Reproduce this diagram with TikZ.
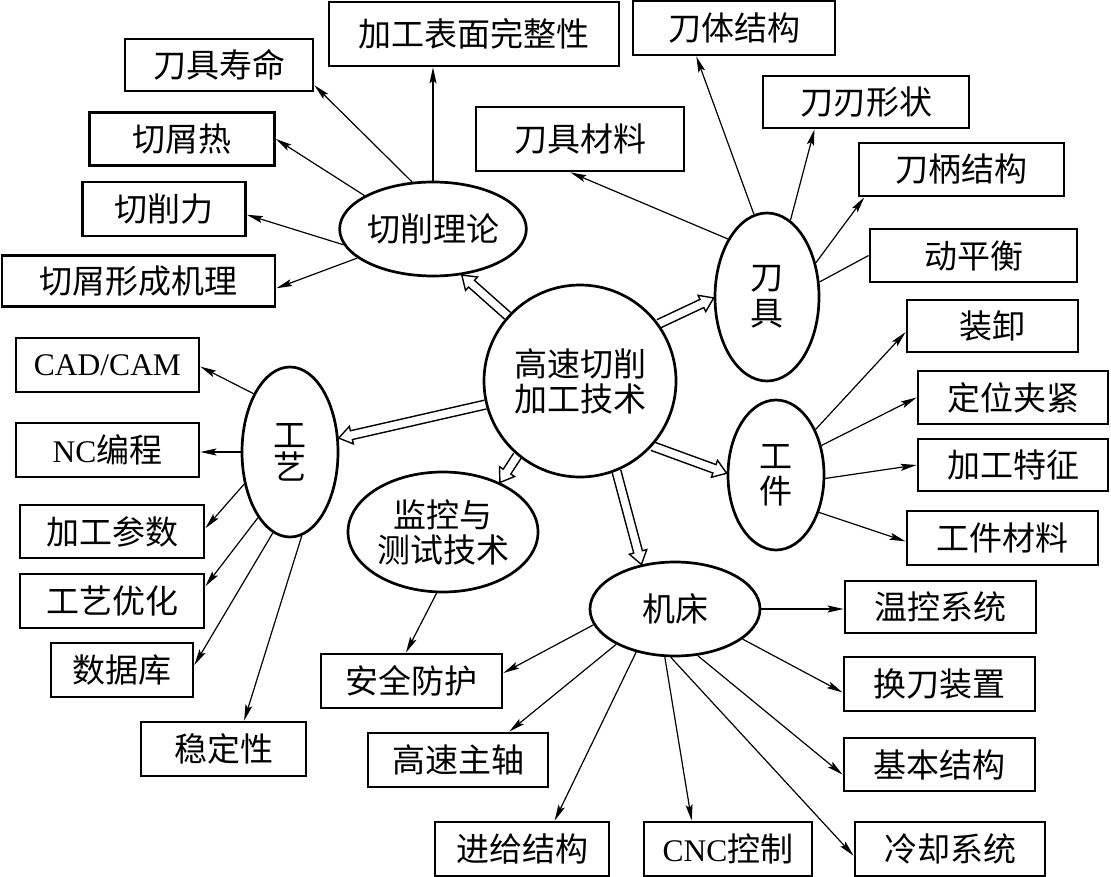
\documentclass[tikz,border=0pt]{standalone}
\usepackage{fontspec}
\setmainfont{Noto Sans CJK SC}
\newfontfamily\latfont{Liberation Serif}
\newcommand\Lat[1]{{\fontsize{31.5}{33}\selectfont\latfont #1}}
\usetikzlibrary{shapes.geometric,arrows.meta,calc}
\newcommand\harrow[2]{%
  \coordinate (hA) at (#1);
  \coordinate (hB) at (#2);
  \coordinate (hH) at ($(hB)!13pt!(hA)$);
  \draw[hollow] ($(hA)!4.5pt!90:(hB)$) -- ($(hH)!4.5pt!-90:(hA)$) -- ($(hH)!9pt!-90:(hA)$) -- (hB)
     -- ($(hH)!9pt!90:(hA)$) -- ($(hH)!4.5pt!90:(hA)$) -- ($(hA)!4.5pt!-90:(hB)$);
}
\begin{document}
\begin{tikzpicture}[x=1pt,y=-1pt,
  every node/.style={font=\fontsize{33}{35}\selectfont},
  box/.style={draw, line width=2.8pt, inner sep=0pt, minimum height=53pt},
  oval/.style={draw, ellipse, line width=2.7pt, inner sep=0pt, align=center},
  link/.style={line width=1.2pt, -{Stealth[length=16pt,width=7pt,inset=3pt]}},
  plain/.style={line width=1.2pt},
  hollow/.style={line width=1.4pt, line join=miter}]
\useasboundingbox (0,0) rectangle (1111,877);

% boxes
\node[box, minimum width=290pt, minimum height=64pt] (surf) at (474,34) {加工表面完整性};
\node[box, minimum width=188pt, minimum height=52pt] (life) at (219,65) {刀具寿命};
\node[box, minimum width=185pt] (heat) at (182,139) {切屑热};
\node[box, minimum width=163pt, minimum height=54pt] (force) at (164,209) {切削力};
\node[box, minimum width=273pt, minimum height=51pt] (chip) at (138.5,281) {切屑形成机理};
\node[box, minimum width=208pt, minimum height=64pt] (tmat) at (580,139) {刀具材料};
\node[box, minimum width=202pt, minimum height=54pt] (body) at (734,28) {刀体结构};
\node[box, minimum width=206pt, minimum height=52pt] (edge) at (866,102) {刀刃形状};
\node[box, minimum width=205pt] (shank) at (961.5,169.5) {刀柄结构};
\node[box, minimum width=207pt] (bal) at (973.5,255.5) {动平衡};
\node[box, minimum width=171pt, minimum height=52pt] (load) at (992.5,326) {装卸};
\node[box, minimum width=190pt] (clamp) at (1013,397.5) {定位夹紧};
\node[box, minimum width=190pt, minimum height=52pt] (feat) at (1013,465) {加工特征};
\node[box, minimum width=191pt, minimum height=54pt] (wmat) at (1002.5,538) {工件材料};
\node[box, minimum width=191pt, minimum height=52pt] (temp) at (940.5,607) {温控系统};
\node[box, minimum width=191pt, minimum height=54pt] (tool) at (939.5,684) {换刀装置};
\node[box, minimum width=191pt] (base) at (939.5,764.5) {基本结构};
\node[box, minimum width=190pt, minimum height=54pt] (cool) at (950,849) {冷却系统};
\node[box, minimum width=168pt, minimum height=54pt] (cnc) at (728,849) {\Lat{CNC}控制};
\node[box, minimum width=174pt, minimum height=54pt] (feed) at (522,849) {进给结构};
\node[box, minimum width=180pt, minimum height=54pt] (spin) at (458,760) {高速主轴};
\node[box, minimum width=181pt, minimum height=54pt] (safe) at (411.5,681) {安全防护};
\node[box, minimum width=183pt, minimum height=54pt] (cad) at (107.5,365) {\Lat{CAD/CAM}};
\node[box, minimum width=183pt, minimum height=54pt] (nc) at (107.5,450) {\Lat{NC}编程};
\node[box, minimum width=184pt] (par) at (112,531.5) {加工参数};
\node[box, minimum width=184pt, minimum height=54pt] (opt) at (112,601) {工艺优化};
\node[box, minimum width=142pt, minimum height=54pt] (db) at (122,670) {数据库};
\node[box, minimum width=165pt, minimum height=54pt] (stab) at (223.5,749) {稳定性};

% ellipses
\node[oval, minimum width=170pt, minimum height=94pt] (qx) at (433,229) {切削理论};
\node[oval, minimum width=104pt, minimum height=168pt, font=\fontsize{33}{36}\selectfont] (dj) at (767,297) {刀\\具};
\node[oval, minimum width=96pt, minimum height=150pt] (gj) at (776,475) {工\\件};
\node[oval, minimum width=96pt, minimum height=170pt, font=\fontsize{33}{32}\selectfont] (gy) at (290,452) {工\\艺};
\node[oval, minimum width=190pt, minimum height=120pt] (jk) at (443,532) {监控与\\测试技术};
\node[oval, minimum width=170pt, minimum height=94pt] (jc) at (675,609) {机床};
\node[circle, draw, line width=2.7pt, inner sep=0pt, minimum size=192pt, align=center] (core) at (580,381) {高速切削\\加工技术};

% 切削理论
\draw[link] (qx.114) -- (life.-12);
\draw[link] (qx.north) -- (qx.north |- surf.south);
\draw[link] (qx.154) -- (heat.east);
\draw[link] (qx.190) -- (force.-4);
\draw[link] (qx.201) -- (chip.-3);
% 刀具
\draw[link] (dj.124) -- (tmat.254);
\draw[link] (dj.99) -- (body.217);
\draw[link] (dj.73) -- (edge.208);
\draw[link] (dj.35) -- (shank.196);
\draw[plain] (dj.16) -- (bal.west);
% 工件
\draw[link] (gj.49) -- (load.184);
\draw[link] (gj.33) -- (clamp.west);
\draw[link] (gj.-4) -- (feat.west);
\draw[link] (gj.-41) -- (wmat.182);
% 工艺
\draw[link] (gy.122) -- (cad.-1);
\draw[link] (gy.west) -- (gy.west -| nc.east);
\draw[link] (gy.215) -- (par.2);
\draw[link] (gy.244) -- (opt.9);
\draw[link] (gy.258) -- (db.4);
\draw[link] (gy.278) -- (stab.54);
% 机床
\draw[link] (jc.east) -- (jc.east -| temp.west);
\draw[link] (jc.-24) -- (tool.185);
\draw[link] (jc.-64) -- (base.186);
\draw[link] (jc.265) -- (cool.184);
\draw[link] (jc.258) -- (cnc.142);
\draw[link] (jc.228) -- (feed.41);
\draw[link] (jc.211) -- (spin.29);
\draw[link] (jc.191) -- (safe.5);
% 监控
\draw[link] (jk.264) -- (safe.101);

% hollow arrows from the core
\harrow{core.138}{qx.-58}
\harrow{core.36}{dj.181}
\harrow{core.-42}{gj.178}
\harrow{core.-68}{jc.127}
\harrow{core.230}{jk.41}
\harrow{core.194}{gy.16}
\end{tikzpicture}
\end{document}
